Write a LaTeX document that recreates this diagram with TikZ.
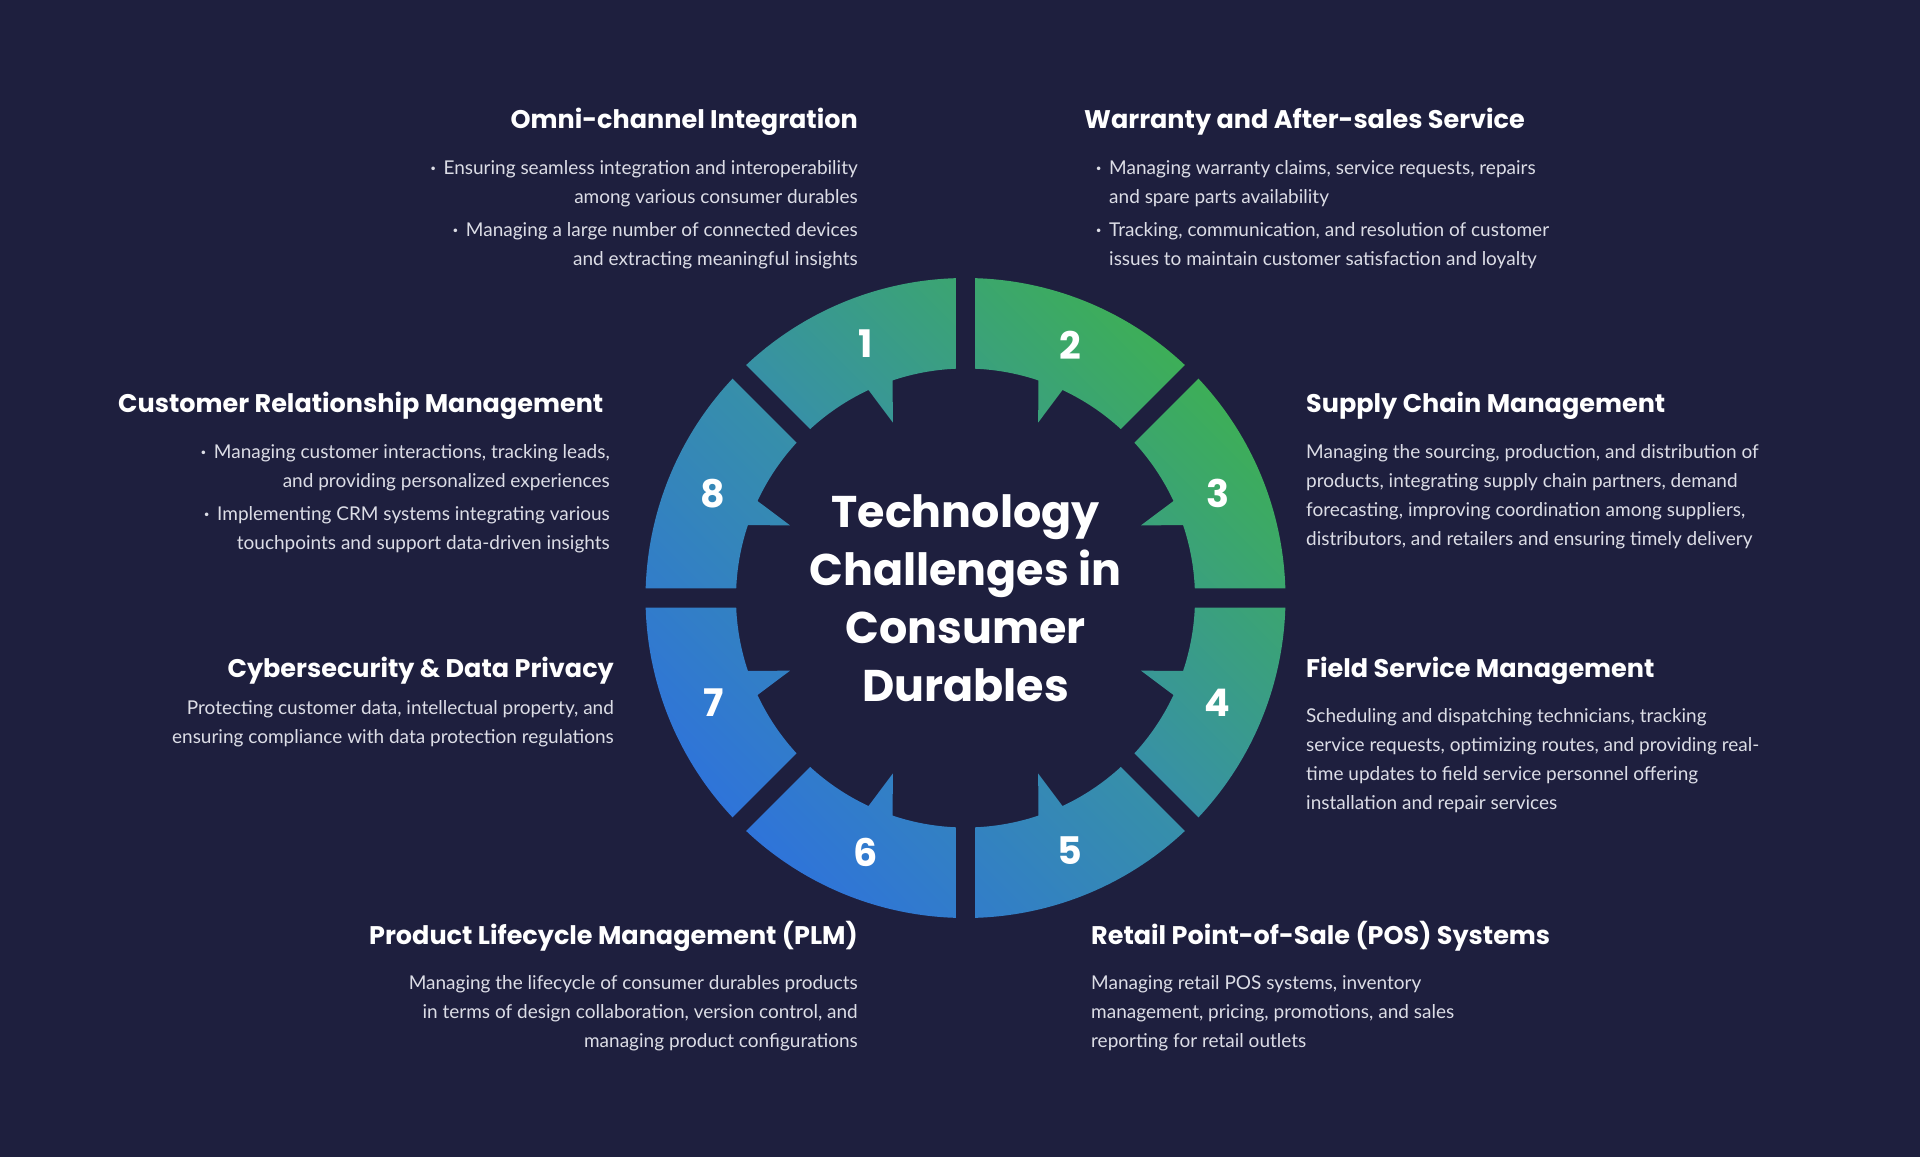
\documentclass[tikz,border=0pt]{standalone}
\usepackage{fontspec}
\setmainfont{Lato}
\newfontfamily\headfont{Poppins}
\usepackage{xcolor}
\usepackage{tikz}
\definecolor{bgnavy}{HTML}{1E1F3E}
\definecolor{ringblue}{HTML}{2F74D9}
\definecolor{ringteal}{HTML}{3790A8}
\definecolor{ringgreen}{HTML}{3DAE58}
\definecolor{bodygray}{HTML}{DCDDE6}
\newcommand{\bul}{\makebox[13pt][l]{\bfseries·}}
\newcommand{\ind}{\hspace*{13pt}}
\tikzset{
  blocktitle/.style={text=white,inner sep=0pt,font=\headfont\fontsize{25.5}{30}\selectfont\bfseries},
  blocktext/.style={text=bodygray,inner sep=0pt,font=\fontsize{19}{29}\selectfont},
  segnum/.style={text=white,inner sep=0pt,font=\headfont\fontsize{38}{40}\selectfont\bfseries},
  hubtext/.style={text=white,inner sep=0pt,align=center,font=\headfont\fontsize{44.4}{58}\selectfont\bfseries}
}

\begin{document}
\begin{tikzpicture}[x=1pt,y=-1pt]
\fill[bgnavy] (0,0) rectangle (1920,1157);
\useasboundingbox (0,0) rectangle (1920,1157);

\begin{scope}[shift={(965.5,598)}]
\shade[bottom color=ringblue,top color=ringgreen,middle color=ringteal,shading angle=-45]
  \foreach \A/\d in {90/1,90/-1,0/1,0/-1,-90/1,-90/-1,180/1,180/-1}{
    ({\A+2.41*(\d)}:229.5pt) -- ({\A+1.73*(\d)}:320pt)
    arc[start angle={\A+1.73*(\d)},end angle={\A+43.27*(\d)},radius=320pt]
    -- ({\A+42.59*(\d)}:229.5pt)
    arc[start angle={\A+42.59*(\d)},end angle={\A+25*(\d)},radius=229.5pt]
    -- ({\A+22.5*(\d)}:190pt) -- ({\A+18.5*(\d)}:229.5pt)
    arc[start angle={\A+18.5*(\d)},end angle={\A+2.41*(\d)},radius=229.5pt] -- cycle};
\foreach \k/\a in {1/111.5,2/67.5,3/22.5,4/-22.5,5/-67.5,6/-111.5,7/-157.5,8/157.5}
  \node[segnum] (n\k) at (\a:273pt) {\k};
\end{scope}

\node[hubtext,anchor=north] (hub) at (965.5,487) {\strut Technology\\Challenges in\\Consumer\\Durables};

\node[blocktitle,anchor=base east] (t1) at (858,128) {Omni-channel Integration};
\node[blocktext,anchor=north east,align=right] (b1) at (858,154) {\strut\bul Ensuring seamless integration and interoperability\\among various consumer durables\\[4pt]\bul Managing a large number of connected devices\\and extracting meaningful insights};

\node[blocktitle,anchor=base west] (t2) at (1084,128) {Warranty and After-sales Service};
\node[blocktext,anchor=north west,align=left] (b2) at (1096,154) {\strut\bul Managing warranty claims, service requests, repairs\\\ind and spare parts availability\\[4pt]\bul Tracking, communication, and resolution of customer\\\ind issues to maintain customer satisfaction and loyalty};

\node[blocktitle,anchor=base west] (t3) at (1306,412.5) {Supply Chain Management};
\node[blocktext,anchor=north west,align=left] (b3) at (1306,438) {\strut Managing the sourcing, production, and distribution of\\products, integrating supply chain partners, demand\\forecasting, improving coordination among suppliers,\\distributors, and retailers and ensuring timely delivery};

\node[blocktitle,anchor=base west] (t4) at (1306,677) {Field Service Management};
\node[blocktext,anchor=north west,align=left] (b4) at (1306,702.2) {\strut Scheduling and dispatching technicians, tracking\\service requests, optimizing routes, and providing real-\\time updates to field service personnel offering\\installation and repair services};

\node[blocktitle,anchor=base west] (t5) at (1091,944.5) {Retail Point-of-Sale (POS) Systems};
\node[blocktext,anchor=north west,align=left] (b5) at (1091,968.5) {\strut Managing retail POS systems, inventory\\management, pricing, promotions, and sales\\reporting for retail outlets};

\node[blocktitle,anchor=base east] (t6) at (858,944.5) {Product Lifecycle Management (PLM)};
\node[blocktext,anchor=north east,align=right] (b6) at (858,968.5) {\strut Managing the lifecycle of consumer durables products\\in terms of design collaboration, version control, and\\managing product configurations};

\node[blocktitle,anchor=base east] (t7) at (614,677) {Cybersecurity \& Data Privacy};
\node[blocktext,anchor=north east,align=right] (b7) at (614,693.7) {\strut Protecting customer data, intellectual property, and\\ensuring compliance with data protection regulations};

\node[blocktitle,anchor=base east] (t8) at (603.5,412.5) {Customer Relationship Management};
\node[blocktext,anchor=north east,align=right] (b8) at (610,438) {\strut\bul Managing customer interactions, tracking leads,\\and providing personalized experiences\\[4pt]\bul Implementing CRM systems integrating various\\touchpoints and support data-driven insights};
\end{tikzpicture}
\end{document}
